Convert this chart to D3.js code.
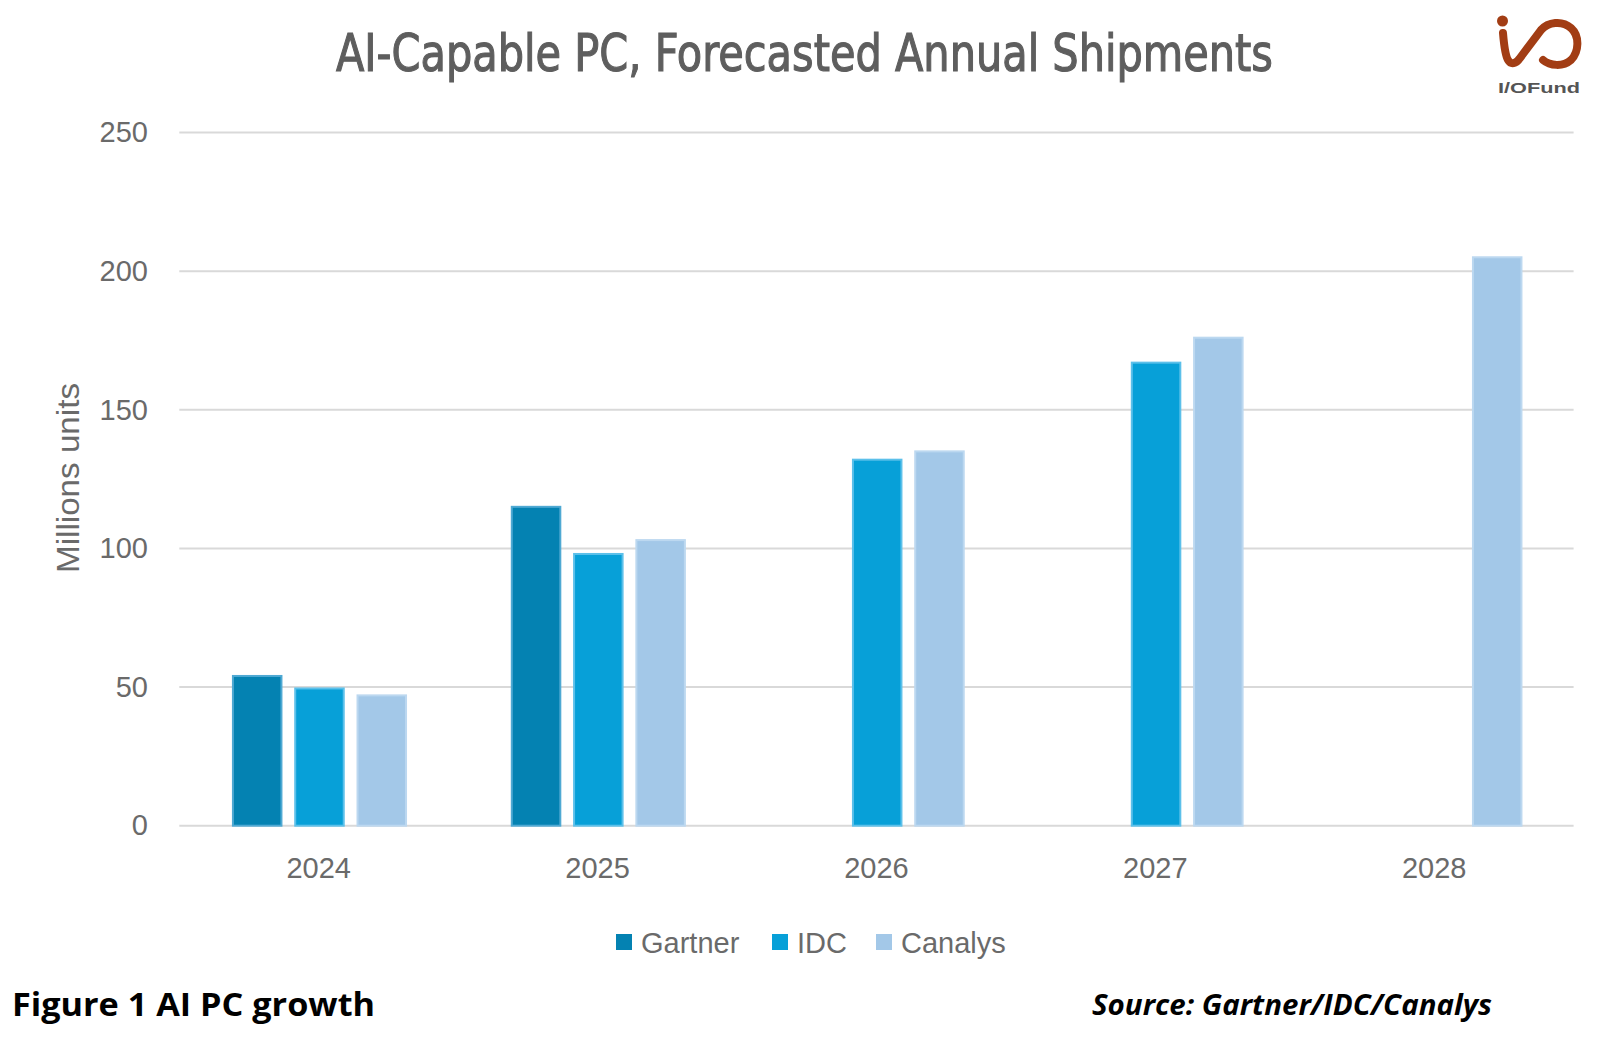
<!DOCTYPE html>
<html>
<head>
<meta charset="utf-8">
<script src="https://cdn.jsdelivr.net/npm/d3@7"></script>
<style>
  html, body { margin: 0; padding: 0; background: #fff; }
  svg { display: block; }
</style>
</head>
<body>
<svg id="chart" width="1620" height="1044"></svg>
<script>
// ---- data ----
const years = ["2024", "2025", "2026", "2027", "2028"];
const seriesNames = ["Gartner", "IDC", "Canalys"];
const gartner = [54, 115, null, null, null];
const idc = [49.5, 98, 132, 167, null];
const canalys = [47, 103, 135, 176, 205];
const yTicks = [0, 50, 100, 150, 200, 250];

(function () {
const seriesValues = { Gartner: gartner, IDC: idc, Canalys: canalys };
const fills = { Gartner: "#0482b2", IDC: "#07a0d8", Canalys: "#a3c8e8" };
const strokes = { Gartner: "#4fa9d3", IDC: "#5cc0ea", Canalys: "#bcd8f0" };

const svg = d3.select("#chart");
const plotL = 179.3, plotR = 1573.6, plotT = 132.5, plotB = 825.7;

const x0 = d3.scaleBand().domain(years).range([plotL, plotR]).padding(0);
const x1 = d3.scaleBand().domain(seriesNames).range([0, x0.bandwidth()])
  .paddingInner(0.197).paddingOuter(0.837);
const y = d3.scaleLinear().domain([0, 250]).range([plotB, plotT]);

// gridlines
svg.append("g").selectAll("line").data(yTicks).join("line")
  .attr("x1", plotL).attr("x2", plotR)
  .attr("y1", d => y(d)).attr("y2", d => y(d))
  .attr("stroke", "#d9d9d9").attr("stroke-width", 2);

// y axis labels
const yAxis = d3.axisLeft(y).tickValues(yTicks).tickSize(0).tickPadding(0);
const gy = svg.append("g").attr("transform", `translate(148,0)`).call(yAxis);
gy.select(".domain").remove();
gy.selectAll("text")
  .attr("font-family", "'Liberation Sans', Arial, sans-serif")
  .attr("font-size", 29).attr("fill", "#6a6a6a");

// x axis labels
const xAxis = d3.axisBottom(x0).tickSize(0).tickPadding(0);
const gx = svg.append("g").attr("transform", `translate(0,857)`).call(xAxis);
gx.select(".domain").remove();
gx.selectAll("text")
  .attr("font-family", "'Liberation Sans', Arial, sans-serif")
  .attr("font-size", 29).attr("fill", "#6a6a6a").attr("dy", "0.71em");

// bars
const rows = [];
years.forEach((yr, i) => seriesNames.forEach(s => {
  const v = seriesValues[s][i];
  if (v != null) rows.push({ year: yr, series: s, value: v });
}));
svg.append("g").selectAll("rect").data(rows).join("rect")
  .attr("x", d => x0(d.year) + x1(d.series) + 1.5)
  .attr("width", x1.bandwidth() - 1.5)
  .attr("y", d => y(d.value))
  .attr("height", d => y(0) - y(d.value))
  .attr("fill", d => fills[d.series])
  .attr("stroke", d => strokes[d.series])
  .attr("stroke-width", 2);

// title
svg.append("text")
  .attr("x", 336).attr("y", 71)
  .attr("textLength", 937).attr("lengthAdjust", "spacingAndGlyphs")
  .attr("font-family", "'Liberation Sans Narrow', 'DejaVu Sans Condensed', 'Roboto Condensed', Roboto, sans-serif")
  .attr("font-stretch", "condensed")
  .attr("font-size", 51).attr("fill", "#5e5e5e")
  .attr("stroke", "#5e5e5e").attr("stroke-width", 1.1)
  .text("AI-Capable PC, Forecasted Annual Shipments");

// y axis title
svg.append("text")
  .attr("transform", "translate(79,478) rotate(-90)")
  .attr("text-anchor", "middle")
  .attr("textLength", 190).attr("lengthAdjust", "spacingAndGlyphs")
  .attr("font-family", "'Liberation Sans', Arial, sans-serif")
  .attr("font-size", 31).attr("fill", "#6a6a6a")
  .text("Millions units");

// legend
const legendX = { Gartner: 616, IDC: 772, Canalys: 876 };
const lg = svg.append("g");
seriesNames.forEach(s => {
  lg.append("rect").attr("x", legendX[s]).attr("y", 934)
    .attr("width", 16).attr("height", 16).attr("fill", fills[s]);
  lg.append("text").attr("x", legendX[s] + 25).attr("y", 953)
    .attr("font-family", "'Liberation Sans', Arial, sans-serif")
    .attr("font-size", 29).attr("fill", "#6a6a6a").text(s);
});

// caption and source
svg.append("text")
  .attr("x", 12).attr("y", 1016)
  .attr("textLength", 363).attr("lengthAdjust", "spacingAndGlyphs")
  .attr("font-family", "'Open Sans', 'Noto Sans', sans-serif")
  .attr("font-weight", "bold").attr("font-size", 33).attr("fill", "#000")
  .text("Figure 1 AI PC growth");
svg.append("text")
  .attr("x", 1092).attr("y", 1015)
  .attr("textLength", 400).attr("lengthAdjust", "spacingAndGlyphs")
  .attr("font-family", "'Open Sans', 'Noto Sans', sans-serif")
  .attr("font-weight", "bold").attr("font-style", "italic")
  .attr("font-size", 28).attr("fill", "#000")
  .text("Source: Gartner/IDC/Canalys");

// logo
const logo = svg.append("g");
logo.append("circle").attr("cx", 1502.5).attr("cy", 21).attr("r", 5.5).attr("fill", "#a23d14");
logo.append("path")
  .attr("d", "M1503,33 C1504,45 1505,55 1508,60 C1511,65 1516,64 1520,58 L1541,30 C1548,22 1562,20 1571,28 C1580,36 1579,52 1571,60 C1563,67 1550,66 1543,60")
  .attr("fill", "none").attr("stroke", "#a23d14").attr("stroke-width", 8).attr("stroke-linecap", "round");
logo.append("text").attr("x", 1498).attr("y", 93)
  .attr("textLength", 82).attr("lengthAdjust", "spacingAndGlyphs")
  .attr("font-family", "'Liberation Sans', Arial, sans-serif")
  .attr("font-weight", "bold").attr("font-size", 15).attr("fill", "#555")
  .text("I/OFund");
})();
</script>
</body>
</html>
